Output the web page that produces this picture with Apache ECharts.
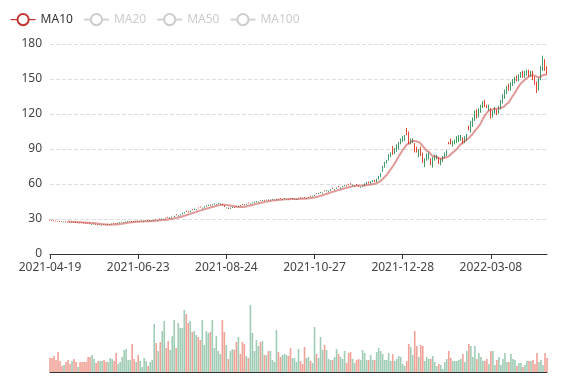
<!DOCTYPE html>
<html><head><meta charset="utf-8">
<script src="https://cdn.jsdelivr.net/npm/echarts@6/dist/echarts.min.js"></script>
<style>html,body{margin:0;padding:0;background:#fff}#chart{width:577px;height:380px}</style>
</head><body><div id="chart"></div>
<script>
// Trading days per month (categories)
const tradingDays = [
  ['2021-04', [19,20,21,22,23,26,27,28,29,30]],
  ['2021-05', [6,7,10,11,12,13,14,17,18,19,20,21,24,25,26,27,28,31]],
  ['2021-06', [1,2,3,4,7,8,9,10,11,14,15,16,17,18,21,22,23,24,25,28,29,30]],
  ['2021-07', [1,2,5,6,7,8,9,12,13,14,15,16,19,20,21,22,23,26,27,28,29,30]],
  ['2021-08', [2,3,4,5,6,9,10,11,12,13,16,17,18,19,20,23,24,25,26,27,30,31]],
  ['2021-09', [1,2,3,7,8,9,10,13,14,15,16,17,20,21,22,23,24,27,28,29,30]],
  ['2021-10', [4,5,6,7,8,11,12,13,14,15,18,19,20,21,22,25,26,27,28,29]],
  ['2021-11', [1,2,3,4,5,8,9,10,11,12,15,16,17,18,19,22,23,24,25,26,29,30]],
  ['2021-12', [1,2,3,6,7,8,9,10,13,14,15,16,17,20,21,22,23,24,27,28,29,30]],
  ['2022-01', [3,4,5,6,7,10,11,12,13,14,18,19,20,21,24,25,26,27,28]],
  ['2022-02', [3,4,7,8,9,10,11,14,15,16,17,18,22,23,24,25,28]],
  ['2022-03', [1,2,3,4,7,8,9,10,11,14,15,16,17,18,21,22,23,24,25,28,29,30,31]],
  ['2022-04', [1,4,5,6,7,8,11,12,13,14,15]]
];

const openValues = [
29.3,29.0,28.8,28.5,28.2,28.0,27.7,27.3,27.7,27.4,
27.5,27.1,27.5,27.2,26.7,27.0,27.2,26.9,26.6,26.7,
26.3,25.2,25.5,25.8,25.2,24.7,24.3,25.3,25.1,24.8,
25.1,25.5,26.6,26.4,26.1,26.6,27.1,26.9,27.3,27.8,
27.7,28.1,28.3,27.8,28.2,27.6,27.9,27.8,28.2,28.8,
28.4,28.2,28.6,30.0,28.9,30.2,29.8,29.6,31.0,31.6,
30.6,31.2,31.9,33.8,32.4,33.2,34.1,35.0,36.8,36.4,
36.0,38.3,37.9,37.6,39.7,40.5,39.0,39.8,40.7,41.4,
42.2,41.8,42.4,42.3,43.0,42.6,42.6,41.6,39.2,39.6,
38.9,39.6,40.3,40.8,40.4,41.9,42.7,42.4,42.2,43.9,
42.7,43.4,44.0,44.6,44.4,45.9,45.6,46.2,45.9,46.4,
46.1,46.6,46.1,46.8,47.2,47.8,46.5,47.2,46.7,47.1,
47.7,47.3,46.8,46.5,47.1,48.4,48.0,48.7,47.5,48.2,
49.6,49.3,50.0,51.9,51.7,52.4,52.0,54.3,54.0,53.5,
54.4,56.5,55.0,56.0,57.9,56.3,57.4,58.2,58.7,59.8,
60.3,58.8,58.0,59.6,58.5,57.0,57.8,58.4,60.1,61.6,
60.7,62.0,63.0,62.0,64.1,66.4,71.0,74.8,78.2,80.5,
84.0,92.0,86.5,88.5,90.5,95.0,97.0,98.0,107.0,104.0,
95.0,96.0,94.0,91.0,84.0,91.0,86.0,75.5,81.0,82.0,
81.0,76.5,81.0,82.0,82.0,77.0,80.0,83.0,85.0,95.5,
98.0,93.0,95.0,96.0,97.0,98.0,99.0,96.0,98.0,109.0,
105.0,110.0,115.0,123.0,118.0,122.0,126.0,131.0,127.0,124.0,
124.0,118.0,121.0,123.0,121.0,125.0,130.0,134.0,138.0,145.0,
141.0,145.0,147.0,152.0,149.0,152.0,156.0,152.0,154.0,157.0,
153.0,156.0,151.0,147.0,141.0,150.0,158.0,166.0,160.0
];
const closeValues = [
29.0,28.7,28.4,28.1,27.9,27.6,27.4,27.7,27.3,27.0,
27.2,27.4,27.1,26.8,27.0,26.6,26.9,26.5,26.2,26.4,
25.8,25.5,25.9,25.3,24.8,25.1,24.6,25.0,24.7,25.2,
25.4,25.9,26.3,26.0,26.6,27.1,27.5,27.2,27.8,28.3,
28.0,27.6,27.9,28.2,27.8,27.9,28.3,28.1,28.6,28.4,
28.9,28.5,29.0,29.6,29.2,29.8,30.3,29.9,30.6,31.2,
31.0,31.8,32.5,33.4,32.9,33.8,34.9,35.6,36.3,35.8,
37.0,37.9,38.6,38.1,39.2,40.0,39.4,40.6,41.3,42.0,
41.6,42.5,43.1,42.7,43.6,43.0,41.8,40.5,39.6,38.8,
39.5,40.2,39.7,40.4,41.0,41.5,42.3,41.9,42.8,43.5,
43.1,44.0,44.6,45.2,44.8,45.5,46.1,45.7,46.4,45.9,
46.6,47.0,46.5,47.2,46.8,47.4,46.9,47.6,47.1,46.7,
47.3,47.8,47.2,46.9,47.5,48.0,47.6,48.3,47.9,48.6,
49.2,49.8,50.6,51.5,52.3,53.0,52.5,53.8,54.6,54.0,
55.2,56.0,55.4,56.6,57.4,56.9,58.1,58.8,58.2,59.3,
59.9,59.2,58.5,59.1,58.0,57.4,58.3,60.2,61.5,60.8,
62.0,62.9,62.1,64.0,66.5,68.5,74.5,78.0,79.5,84.5,
86.0,86.0,90.0,93.0,95.0,98.0,100.0,101.0,103.0,95.0,
98.0,98.0,88.0,88.0,89.0,85.0,79.0,81.0,85.0,86.0,
77.0,82.0,84.0,84.0,78.0,81.0,83.0,86.0,88.0,94.5,
95.0,96.0,97.0,100.0,101.0,101.0,95.0,100.0,102.0,107.0,
113.0,116.0,122.0,117.0,124.0,127.0,130.0,127.0,126.0,127.0,
118.0,122.0,125.0,120.0,126.0,131.0,136.0,140.0,143.0,141.0,
146.0,149.0,151.0,149.0,153.0,155.0,152.0,156.0,157.0,153.0,
156.0,150.0,146.0,140.0,150.0,160.0,167.0,158.0,156.0
];
const lowValues = [
28.8,28.5,28.2,27.9,27.7,27.4,27.2,27.1,27.1,26.8,
27.0,26.9,26.9,26.6,26.5,26.4,26.7,26.3,26.0,26.2,
25.6,25.0,25.3,25.1,24.6,24.5,24.1,24.8,24.5,24.6,
24.9,25.3,26.1,25.8,25.9,26.4,26.9,26.7,27.1,27.6,
27.5,27.4,27.7,27.6,27.6,27.4,27.7,27.6,28.0,28.2,
28.2,28.0,28.4,29.4,28.7,29.6,29.6,29.4,30.4,31.0,
30.3,31.0,31.7,33.1,32.2,33.0,33.9,34.8,36.0,35.5,
35.8,37.7,37.7,37.4,39.0,39.8,38.8,39.6,40.5,41.2,
41.4,41.6,42.2,42.1,42.8,42.4,41.6,40.3,39.0,38.6,
38.7,39.4,39.5,40.2,40.2,41.3,42.1,41.7,42.0,43.3,
42.5,43.2,43.8,44.4,44.2,45.3,45.4,45.5,45.7,45.7,
45.9,46.4,45.9,46.6,46.6,47.2,46.3,47.0,46.5,46.5,
47.1,47.1,46.6,46.3,46.9,47.8,47.4,48.1,47.3,48.0,
49.0,49.1,49.8,51.3,51.5,52.2,51.8,53.6,53.8,53.3,
54.1,55.7,54.7,55.8,57.1,56.0,57.2,58.0,57.9,59.0,
59.6,58.5,57.7,58.8,57.7,56.7,57.5,58.1,59.8,60.4,
60.3,61.6,61.7,61.6,63.7,65.9,70.4,74.0,77.5,80.0,
83.0,85.0,85.5,87.5,89.5,94.0,96.0,97.0,102.0,94.0,
94.0,95.0,87.0,87.0,83.0,84.0,78.0,74.5,80.0,81.0,
76.0,74.0,80.0,81.0,77.0,76.0,79.0,82.0,84.0,94.0,
94.0,92.0,94.0,95.0,96.0,97.0,94.0,95.0,97.0,106.0,
104.0,109.0,114.0,116.0,117.0,121.0,125.0,126.0,125.0,123.0,
116.0,117.0,120.0,119.0,120.0,124.0,129.0,133.0,137.0,140.0,
140.0,144.0,146.0,148.0,148.0,151.0,151.0,151.0,153.0,152.0,
152.0,149.0,145.0,138.0,140.0,149.0,157.0,157.0,154.0
];
const highValues = [
29.6,29.2,29.0,28.7,28.3,28.2,27.9,27.9,28.0,27.6,
27.7,27.6,27.7,27.4,27.2,27.2,27.4,27.1,26.8,26.9,
26.5,25.7,26.1,26.0,25.4,25.3,24.8,25.5,25.3,25.4,
25.6,26.1,26.8,26.6,26.8,27.3,27.7,27.4,28.0,28.5,
28.2,28.3,28.5,28.4,28.4,28.1,28.5,28.3,28.8,29.0,
29.1,28.7,29.2,30.2,29.4,30.4,30.5,30.1,31.2,31.8,
31.3,32.1,32.8,34.0,33.2,34.1,35.2,35.9,37.0,36.6,
37.3,38.6,38.9,38.4,39.9,40.7,39.7,40.9,41.6,42.3,
42.4,42.7,43.3,42.9,43.8,43.4,42.8,41.8,39.9,39.8,
39.7,40.4,40.5,41.0,41.2,42.1,42.9,42.6,43.0,44.1,
43.3,44.2,44.8,45.4,45.0,46.1,46.3,46.4,46.6,46.6,
46.8,47.2,46.7,47.4,47.4,48.0,47.1,47.8,47.3,47.3,
47.9,48.0,47.4,47.1,47.7,48.6,48.2,48.9,48.1,48.8,
49.9,50.0,50.8,52.1,52.5,53.2,52.8,54.5,54.8,54.3,
55.5,56.8,55.7,56.9,58.2,57.2,58.4,59.1,59.0,60.1,
60.6,59.5,58.8,59.9,58.8,57.7,58.6,60.6,61.9,62.0,
62.4,63.3,63.5,64.5,67.0,69.2,75.5,79.0,80.6,85.5,
87.0,92.5,91.0,94.0,96.0,99.0,101.0,102.0,108.0,105.0,
99.0,99.0,95.0,92.0,90.0,92.0,87.0,82.0,86.0,87.0,
82.0,83.0,85.0,85.0,83.0,82.0,84.0,87.0,89.0,96.0,
99.0,97.0,98.0,101.0,102.0,102.0,100.0,101.0,103.0,110.0,
114.0,117.0,123.0,124.0,125.0,128.0,131.0,132.0,128.0,128.0,
125.0,123.0,126.0,124.0,127.0,132.0,137.0,141.0,144.0,146.0,
147.0,150.0,152.0,153.0,154.0,156.0,157.0,157.0,158.0,158.0,
157.0,157.0,152.0,148.0,151.0,161.0,170.0,167.0,161.0
];
const volumeValues = [
14,14,16,12,20,11,6,7,10,12,
8,11,13,10,5,10,10,10,10,15,
15,17,13,9,11,11,11,12,10,10,
14,13,11,19,8,10,15,22,23,12,
12,28,13,10,17,11,5,14,11,6,
10,12,48,29,21,30,41,51,24,31,
22,36,52,24,49,44,44,62,58,49,
51,40,41,37,35,32,52,27,41,39,
40,52,24,36,21,18,52,40,27,13,
21,23,22,30,35,18,30,28,16,14,
67,39,21,32,26,30,31,17,17,21,
21,12,10,42,20,15,17,18,17,16,
24,14,14,10,23,11,8,25,14,15,
11,9,45,18,14,35,22,27,22,13,
12,12,15,23,18,15,13,21,9,19,
20,13,9,12,13,12,22,19,12,12,
17,12,12,20,24,21,18,12,12,19,
11,18,11,13,16,15,8,6,11,28,
25,17,41,26,15,27,26,11,15,13,
13,16,10,6,8,7,3,10,13,21,
14,11,11,11,12,13,18,10,21,28,
26,15,26,13,19,15,11,11,13,8,
21,21,7,12,15,7,13,19,10,10,
18,13,12,6,9,9,5,7,11,11,
11,12,8,19,10,12,7,19,14
];
const maNames = ['MA10', 'MA20', 'MA50', 'MA100'];
const maDays = [10, 20, 50, 100];
const yTicks = { min: 0, max: 180, interval: 30 };

const upColor = '#3f9a6a';
const downColor = '#e2462f';

const dates = [];
tradingDays.forEach(function (m) {
  m[1].forEach(function (d) { dates.push(m[0] + '-' + (d < 10 ? '0' + d : '' + d)); });
});
const ohlc = dates.map(function (_, i) {
  return [openValues[i], closeValues[i], lowValues[i], highValues[i]];
});
function calcMA(n) {
  const out = [];
  for (let i = 0; i < closeValues.length; i++) {
    if (i < n - 1) { out.push('-'); continue; }
    let s = 0;
    for (let j = 0; j < n; j++) s += closeValues[i - j];
    out.push(+(s / n).toFixed(2));
  }
  return out;
}
const volData = volumeValues.map(function (v, i) {
  const up = closeValues[i] >= openValues[i];
  return { value: v, itemStyle: { color: up ? upColor : downColor } };
});
const maColors = ['#c23531', '#2f4554', '#61a0a8', '#d48265'];
const maSeries = maNames.map(function (name, k) {
  return {
    name: name, type: 'line', data: calcMA(maDays[k]), smooth: true, showSymbol: false,
    color: maColors[k],
    lineStyle: { width: 2, opacity: 0.5 },
    xAxisIndex: 0, yAxisIndex: 0
  };
});

const chart = echarts.init(document.getElementById('chart'));
chart.setOption({
  animation: false,
  textStyle: { fontFamily: 'Noto Sans' },
  legend: {
    left: 5, top: 8, itemGap: 10, itemWidth: 25, itemHeight: 14,
    data: maNames,
    selected: { MA10: true, MA20: false, MA50: false, MA100: false },
    lineStyle: { opacity: 1, width: 1.2 },
    itemStyle: { borderWidth: 1.2, opacity: 1 },
    textStyle: { fontSize: 12, color: '#333', fontFamily: 'Noto Sans' },
    inactiveColor: '#ccc'
  },
  grid: [
    { left: 50, right: 30, top: 44, height: 210 },
    { left: 50, right: 30, top: 302, height: 70 }
  ],
  xAxis: [
    {
      type: 'category', data: dates, boundaryGap: false,
      axisLine: { onZero: false, lineStyle: { color: '#333' } },
      axisTick: { interval: 43, lineStyle: { color: '#333' } },
      axisLabel: { interval: 43, color: '#444', fontSize: 12, fontFamily: 'Noto Sans' },
      splitLine: { show: false },
      min: 'dataMin', max: 'dataMax'
    },
    {
      type: 'category', gridIndex: 1, data: dates, boundaryGap: false,
      axisLine: { onZero: false, lineStyle: { color: '#333' } },
      axisTick: { show: false }, axisLabel: { show: false }, splitLine: { show: false },
      min: 'dataMin', max: 'dataMax'
    }
  ],
  yAxis: [
    {
      type: 'value', min: yTicks.min, max: yTicks.max, interval: yTicks.interval,
      axisLine: { show: false }, axisTick: { show: false },
      axisLabel: { color: '#444', fontSize: 12, fontFamily: 'Noto Sans' },
      splitLine: { lineStyle: { type: 'dashed', color: '#ddd' } }
    },
    {
      type: 'value', gridIndex: 1, min: 0, max: 70,
      axisLine: { show: false }, axisTick: { show: false },
      axisLabel: { show: false }, splitLine: { show: false }
    }
  ],
  series: [
    {
      name: 'Price', type: 'candlestick', data: ohlc,
      itemStyle: { color: upColor, color0: downColor, borderColor: upColor, borderColor0: downColor }
    }
  ].concat(maSeries).concat([
    {
      name: 'Volume', type: 'bar', xAxisIndex: 1, yAxisIndex: 1, data: volData,
      itemStyle: { opacity: 0.5 }, barCategoryGap: '20%'
    }
  ])
});
</script>
</body></html>
